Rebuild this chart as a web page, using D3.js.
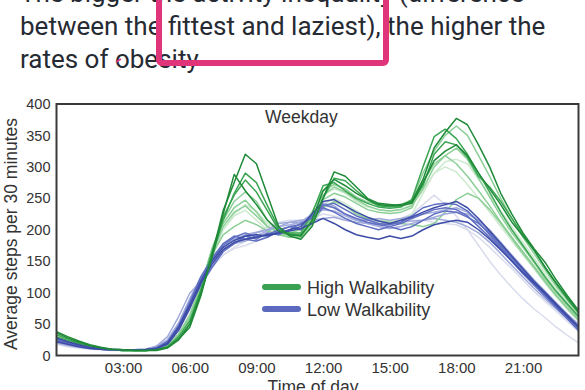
<!DOCTYPE html>
<html><head><meta charset="utf-8">
<script src="https://cdn.jsdelivr.net/npm/d3@7"></script>
<style>
html,body{margin:0;padding:0;background:#fff;}
svg{display:block;}
</style></head>
<body>
<svg id="c" width="585" height="390"></svg>
<script>
// ---- data ----
const timeSlots = ["00:00","00:30","01:00","01:30","02:00","02:30","03:00","03:30","04:00","04:30","05:00","05:30",
"06:00","06:30","07:00","07:30","08:00","08:30","09:00","09:30","10:00","10:30","11:00","11:30",
"12:00","12:30","13:00","13:30","14:00","14:30","15:00","15:30","16:00","16:30","17:00","17:30",
"18:00","18:30","19:00","19:30","20:00","20:30","21:00","21:30","22:00","22:30","23:00","23:30"];
const xTickLabels = ["03:00","06:00","09:00","12:00","15:00","18:00","21:00"];
const yTicks = [0,50,100,150,200,250,300,350,400];
const legendLabels = ["High Walkability","Low Walkability"];

const high1 = [38,30,23,17,13,10,9,8,8,8,12,25,50,100,155,225,288,262,240,215,198,192,190,215,262,280,270,258,248,240,238,240,245,280,330,355,377,367,335,300,258,225,195,170,148,120,95,72];
const high2 = [36,28,21,16,12,10,9,8,8,9,13,26,45,95,160,230,275,320,305,255,205,190,185,205,250,292,285,268,250,242,240,238,242,275,310,325,335,318,290,265,240,212,190,168,140,115,92,70];
const high3 = [30,24,18,14,11,9,8,8,8,9,14,30,55,105,165,220,255,279,260,230,200,195,195,225,270,275,262,250,242,236,234,236,248,300,348,360,345,320,290,260,228,200,175,150,125,102,82,62];
const high4 = [28,22,17,13,11,9,8,8,8,9,15,32,60,110,170,215,245,260,245,215,200,195,190,220,255,268,260,248,238,232,230,232,238,265,300,318,330,312,282,252,222,195,172,148,122,100,80,60];
const high5 = [26,20,16,12,10,9,8,8,8,10,16,33,62,112,168,210,235,247,228,205,195,190,192,218,248,258,252,242,232,228,226,228,235,275,305,318,305,285,262,238,212,188,165,142,118,96,76,57];
const high6 = [25,20,15,12,10,9,8,8,8,10,17,35,65,115,165,200,222,231,215,200,192,188,190,215,240,250,242,230,220,215,214,216,225,258,290,300,292,272,250,228,205,182,160,138,115,93,73,55];
const high7 = [27,21,16,12,10,9,8,8,8,9,14,30,58,108,162,205,228,238,222,205,197,195,200,228,262,272,265,252,244,240,238,240,248,290,325,350,365,350,318,285,250,218,188,162,136,110,88,66];
const high8 = [24,19,15,12,10,9,8,8,8,10,16,34,64,112,160,192,205,215,208,198,192,188,188,210,235,245,238,225,218,214,212,210,208,205,210,228,248,258,250,232,210,186,162,140,117,95,75,56];
const high9 = [25,19,15,12,10,9,8,8,8,10,15,31,60,105,155,200,225,240,230,210,198,192,195,222,255,265,258,245,236,232,230,233,240,262,290,308,312,305,280,255,230,205,180,155,130,106,84,63];
const high10 = [33,26,19,14,11,9,8,8,8,9,13,27,50,98,158,215,258,290,275,238,203,193,192,212,250,282,278,262,248,238,236,238,244,270,320,340,335,315,285,268,245,218,192,167,140,114,90,68];

const low1 = [22,18,14,11,10,9,9,9,9,11,18,40,75,115,145,168,180,185,188,192,195,198,202,210,218,210,200,192,188,185,190,186,190,200,208,212,215,212,200,185,168,150,132,115,98,80,62,45];
const low2 = [28,22,17,13,11,10,9,9,9,11,20,45,80,118,150,172,183,190,192,190,195,200,205,225,245,248,238,228,220,214,210,215,220,228,235,240,245,235,218,198,178,158,138,118,100,82,64,46];
const low3 = [26,20,16,12,10,9,9,9,9,12,22,48,85,125,155,178,190,185,182,188,198,205,200,222,240,235,225,218,212,208,205,210,218,225,232,235,232,222,205,188,170,150,130,112,95,78,60,42];
const low4 = [24,19,15,12,10,9,9,9,9,12,22,42,78,112,140,165,178,190,185,195,192,200,210,218,235,228,218,210,205,200,205,200,205,215,225,230,228,220,210,195,175,155,135,116,98,80,63,46];
const low5 = [25,20,15,12,10,9,9,9,10,13,24,50,88,122,148,170,178,185,195,200,205,208,212,225,242,238,225,215,210,205,202,205,210,215,220,225,228,225,215,200,180,160,140,120,102,84,66,50];
const low6 = [22,18,14,11,10,9,9,9,10,14,25,52,90,125,152,172,185,192,196,200,210,212,212,222,232,230,222,215,215,218,215,218,222,225,228,232,235,228,215,198,178,158,138,118,100,82,64,48];
const low7 = [20,16,13,11,10,9,9,9,10,15,30,62,99,118,150,168,178,182,190,198,205,212,215,215,218,220,215,212,210,208,210,212,214,215,218,215,212,205,195,180,162,143,125,107,90,74,58,42];
const low8 = [18,14,12,10,9,8,8,8,9,12,20,40,72,110,142,160,170,175,182,190,198,205,212,222,238,235,225,218,215,212,213,218,225,240,255,240,222,200,175,150,128,108,90,74,60,45,32,20];
const low9 = [27,21,16,12,10,9,9,9,9,11,19,44,82,120,152,175,188,195,188,192,200,205,208,220,238,242,232,222,216,210,208,212,222,235,240,242,240,230,212,192,172,152,132,112,94,76,58,40];
const low10 = [20,16,13,11,9,9,8,8,9,12,22,46,80,112,140,160,172,182,195,205,212,215,215,218,225,222,218,215,212,210,212,215,215,215,212,210,208,200,188,172,155,138,120,102,86,70,54,38];

// ---- styles (kept apart from data) ----
const G = {dark:"#1f8a38", mid:"#3ba553", light:"#8ccf97", pale:"#cdeacf"};
const B = {dark:"#3d4ca6", mid:"#5f6ec2", light:"#a0aadb", pale:"#d9dcec"};
const series = [
  {v:low8, c:B.pale}, {v:high9, c:G.pale}, {v:low10, c:B.pale}, {v:high6, c:G.pale},
  {v:low7, c:B.light}, {v:high5, c:G.light}, {v:high8, c:G.light}, {v:high7, c:G.light},
  {v:low6, c:B.light}, {v:low5, c:B.light}, {v:high4, c:G.light},
  {v:low4, c:B.mid}, {v:low3, c:B.mid}, {v:high3, c:G.mid}, {v:high10, c:G.mid},
  {v:low9, c:B.mid}, {v:low2, c:B.dark}, {v:low1, c:B.dark}, {v:high2, c:G.dark}, {v:high1, c:G.dark}
];

const svg = d3.select("#c");
const hourOf = s => { const [h,m] = s.split(":").map(Number); return h + m/60; };

// ---- header text ----
const head = svg.append("g").attr("font-family","Roboto, 'Noto Sans', sans-serif")
  .attr("font-size",26).attr("fill","#262a33");
head.append("text").attr("x",20).attr("y",2).text("The bigger the activity inequality (difference");
head.append("text").attr("x",20).attr("y",35).text("between the fittest and laziest), the higher the");
head.append("text").attr("x",20).attr("y",68).text("rates of obesity");

// ---- chart ----
const L = 56.5, R = 578.5, T = 104, Bt = 355.5;
const x = d3.scaleLinear().domain([0, 23.5]).range([L, R]);
const y = d3.scaleLinear().domain([0, 400]).range([Bt, T]);
const font = "'Liberation Sans', Arial, Helvetica, sans-serif";

svg.append("clipPath").attr("id","pc").append("rect")
  .attr("x",L).attr("y",T).attr("width",R-L).attr("height",Bt-T);

const line = d3.line().x((d,i) => x(hourOf(timeSlots[i]))).y(d => y(d));
svg.append("g").attr("clip-path","url(#pc)").selectAll("path").data(series).join("path")
  .attr("d", d => line(d.v)).attr("fill","none").attr("stroke", d => d.c)
  .attr("stroke-width",1.5).attr("stroke-linejoin","round");

svg.append("rect").attr("x",L).attr("y",T).attr("width",R-L).attr("height",Bt-T)
  .attr("fill","none").attr("stroke","#3a3a3a").attr("stroke-width",2);

const xAx = svg.append("g").attr("transform",`translate(0,${Bt})`)
  .call(d3.axisBottom(x).tickValues(xTickLabels.map(hourOf)).tickSize(0).tickPadding(7)
    .tickFormat((d,i) => xTickLabels[i]));
xAx.select(".domain").remove();
xAx.selectAll("text").attr("font-family",font).attr("font-size",15).attr("fill","#333");

const yAx = svg.append("g").attr("transform",`translate(${L},0)`)
  .call(d3.axisLeft(y).tickValues(yTicks).tickSize(0).tickPadding(6));
yAx.select(".domain").remove();
yAx.selectAll("text").attr("font-family",font).attr("font-size",14.5).attr("fill","#333");

svg.append("text").attr("transform","translate(17,234) rotate(-90)").attr("text-anchor","middle")
  .attr("font-family",font).attr("font-size",17.5).attr("fill","#333").text("Average steps per 30 minutes");
svg.append("text").attr("x",313).attr("y",393).attr("text-anchor","middle")
  .attr("font-family",font).attr("font-size",17.5).attr("fill","#333").text("Time of day");
svg.append("text").attr("x",265).attr("y",123)
  .attr("font-family",font).attr("font-size",17.5).attr("fill","#333").text("Weekday");

// legend
const lg = svg.append("g");
const legCols = ["#3aa052","#5b6abf"];
legendLabels.forEach((t,i) => {
  const yy = 287 + i*22;
  lg.append("line").attr("x1",265).attr("x2",298).attr("y1",yy).attr("y2",yy)
    .attr("stroke",legCols[i]).attr("stroke-width",6).attr("stroke-linecap","round");
  lg.append("text").attr("x",307).attr("y",yy+6.5).attr("font-family",font)
    .attr("font-size",18).attr("fill","#333").text(t);
});

// pink highlight box
svg.append("rect").attr("x",159).attr("y",-20).attr("width",227).attr("height",83).attr("rx",3)
  .attr("fill","none").attr("stroke","#e0357a").attr("stroke-width",6);
svg.append("path").attr("d","M116,62 L121,59").attr("stroke","#e0357a").attr("stroke-width",1.5);
</script>
</body></html>
